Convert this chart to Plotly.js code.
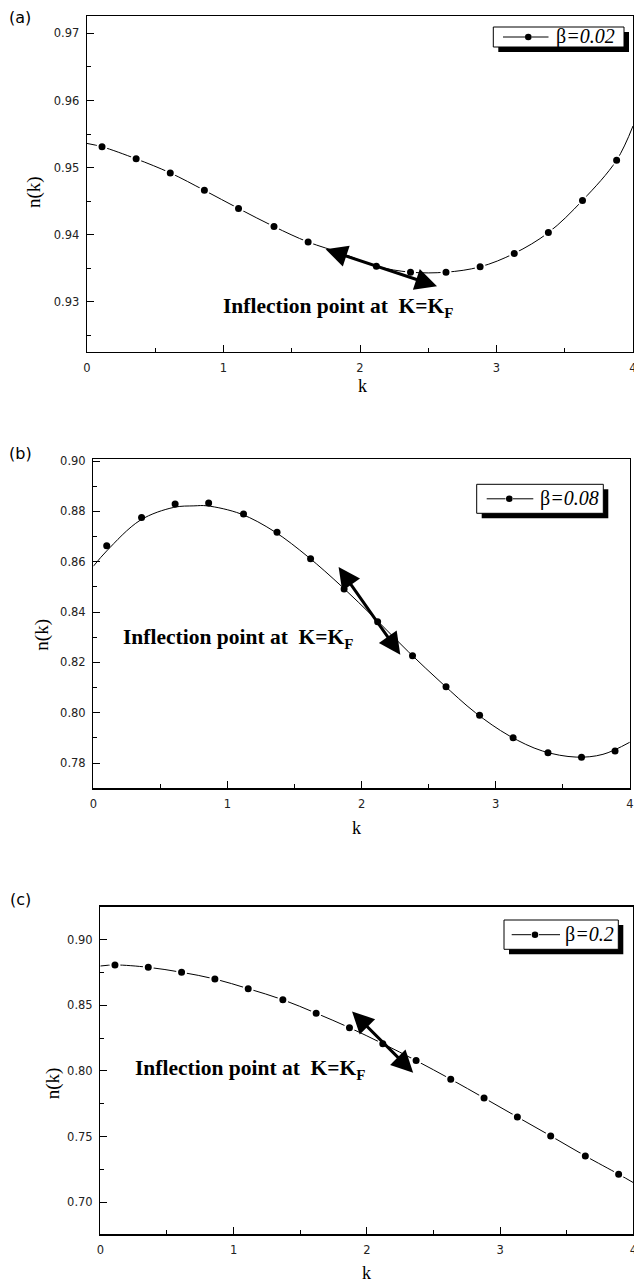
<!DOCTYPE html>
<html>
<head>
<meta charset="utf-8">
<script src="https://cdn.plot.ly/plotly-3.0.1.min.js"></script>
<style>html,body{margin:0;padding:0;background:#fff;}#chart{width:634px;height:1284px;}</style>
</head>
<body>
<div id="chart"></div>
<script>
// ---------------- data ----------------
// panel (a)  beta = 0.02
const kA = [0.11, 0.36, 0.61, 0.86, 1.11, 1.37, 1.62, 1.87, 2.12, 2.37, 2.63, 2.88, 3.13, 3.38, 3.63, 3.88];
const nA = [0.9531, 0.9513, 0.9492, 0.9466, 0.9439, 0.9412, 0.9389, 0.9372, 0.9353, 0.9344, 0.9344, 0.9352, 0.9372, 0.9403, 0.9451, 0.9511];
const lineA_k = [0, 4];            // curve end points
const lineA_n = [0.9536, 0.9562];

// panel (b)  beta = 0.08
const kB = [0.10, 0.36, 0.61, 0.86, 1.12, 1.37, 1.62, 1.87, 2.12, 2.38, 2.63, 2.88, 3.13, 3.39, 3.64, 3.89];
const nB = [0.8664, 0.8776, 0.8829, 0.8833, 0.8790, 0.8717, 0.8612, 0.8492, 0.8362, 0.8227, 0.8103, 0.7990, 0.7901, 0.7841, 0.7823, 0.7848];
const curveB_k = [0, 0.1, 0.35, 0.6, 0.75, 0.85, 1.1, 1.35, 1.6, 1.85, 2.1, 2.35, 2.6, 2.85, 3.1, 3.35, 3.6, 3.8, 4.0];
const curveB_n = [0.8582, 0.8643, 0.8765, 0.8816, 0.8822, 0.8822, 0.8790, 0.8720, 0.8620, 0.8503, 0.8375, 0.8242, 0.8117, 0.8000, 0.7909, 0.7848, 0.7824, 0.7835, 0.7883];

// panel (c)  beta = 0.2
const kC = [0.11, 0.36, 0.61, 0.86, 1.11, 1.37, 1.62, 1.87, 2.12, 2.37, 2.63, 2.88, 3.13, 3.38, 3.64, 3.89];
const nC = [0.8808, 0.8790, 0.8752, 0.8701, 0.8627, 0.8543, 0.8440, 0.8330, 0.8208, 0.8079, 0.7937, 0.7794, 0.7649, 0.7505, 0.7352, 0.7213];
const lineC_k = [0, 4];
const lineC_n = [0.8800, 0.7149];

// legend labels and texts
const legendLabels = ['\u03b2<i>=0.02</i>', '\u03b2<i>=0.08</i>', '\u03b2<i>=0.2</i>'];
const panelLabels = ['(a)', '(b)', '(c)'];
const noteText = '<b>Inflection point at\u00a0\u00a0K=K<sub>F</sub></b>';
const yTitle = 'n(k)';
const xTitle = 'k';

// arrows (tips in data coordinates): [k1, n1, k2, n2]
const arrowA = [1.737, 0.9379, 2.564, 0.9323];
const arrowB = [1.821, 0.8585, 2.289, 0.8231];
const arrowC = [1.878, 0.8465, 2.348, 0.7987];

// ---------------- layout helpers ----------------
const W = 634, H = 1284;
const PX = x => x / W;
const PY = y => 1 - y / H;

const serif = 'Liberation Serif, Times New Roman, serif';
const sans = 'DejaVu Sans, sans-serif';

function axisBase(extra) {
  return Object.assign({
    showline: true, mirror: true, linecolor: 'black', linewidth: 1.3,
    ticks: 'inside', ticklen: 7, tickwidth: 1, tickcolor: 'black',
    showgrid: false, zeroline: false, fixedrange: true,
    tickfont: {family: sans, size: 11.5, color: '#222'},
    tickmode: 'linear', tick0: 0, ticklabeloverflow: 'allow',
  }, extra);
}

const spline = {shape: 'spline', smoothing: 1, color: 'black', width: 1};

const traces = [
  {x: lineA_k.slice(0,1).concat(kA, lineA_k.slice(1)), y: lineA_n.slice(0,1).concat(nA, lineA_n.slice(1)),
   mode: 'lines', line: spline, xaxis: 'x', yaxis: 'y', hoverinfo: 'skip'},
  {x: kA, y: nA, mode: 'markers', marker: {size: 9, color: 'black', line: {color: 'white', width: 2}}, xaxis: 'x', yaxis: 'y'},
  {x: curveB_k, y: curveB_n, mode: 'lines', line: spline, xaxis: 'x2', yaxis: 'y2', hoverinfo: 'skip'},
  {x: kB, y: nB, mode: 'markers', marker: {size: 7, color: 'black'}, xaxis: 'x2', yaxis: 'y2'},
  {x: lineC_k.slice(0,1).concat(kC, lineC_k.slice(1)), y: lineC_n.slice(0,1).concat(nC, lineC_n.slice(1)),
   mode: 'lines', line: spline, xaxis: 'x3', yaxis: 'y3', hoverinfo: 'skip'},
  {x: kC, y: nC, mode: 'markers', marker: {size: 9, color: 'black', line: {color: 'white', width: 2}}, xaxis: 'x3', yaxis: 'y3'},
];

// panel geometry in pixels: [left, right, top, bottom]
const boxes = [[87, 633, 16, 352], [93.3, 629.8, 459.3, 788.3], [100.3, 633.3, 906.7, 1234.3]];
const yRanges = [[0.9225, 0.9726], [0.770, 0.9007], [0.6755, 0.9252]];
const yD = [0.01, 0.02, 0.05];

const layout = {
  width: W, height: H, margin: {l: 0, r: 0, t: 0, b: 0},
  paper_bgcolor: 'white', plot_bgcolor: 'white', showlegend: false,
  annotations: [], shapes: [],
};
boxes.forEach((b, i) => {
  const s = i === 0 ? '' : String(i + 1);
  layout['xaxis' + s] = axisBase({domain: [PX(b[0]), PX(b[1])], range: [0, 4], dtick: 1, tickformat: 'd',
    anchor: 'y' + s, ticklabelstandoff: 5,
    minor: {ticks: 'inside', ticklen: 4, tickwidth: 1, tickcolor: 'black', dtick: 0.5, tick0: 0, showgrid: false}});
  layout['yaxis' + s] = axisBase({domain: [PY(b[3]), PY(b[2])], range: yRanges[i], dtick: yD[i], tickformat: '.2f',
    anchor: 'x' + s, ticklabelstandoff: 4,
    minor: {ticks: 'inside', ticklen: 4, tickwidth: 1, tickcolor: 'black', dtick: yD[i] / 2, tick0: 0, showgrid: false}});
});

// panel letters
[[19.8, 18], [20.8, 453], [20, 899]].forEach((p, i) => {
  layout.annotations.push({xref: 'paper', yref: 'paper', x: PX(p[0]), y: PY(p[1]), xanchor: 'center', yanchor: 'middle',
    text: panelLabels[i], showarrow: false, font: {family: sans, size: 16, color: 'black'}});
});
// y titles
[[34, 192], [41.7, 635], [53.3, 1083]].forEach(p => {
  layout.annotations.push({xref: 'paper', yref: 'paper', x: PX(p[0]), y: PY(p[1]), xanchor: 'center', yanchor: 'middle',
    text: yTitle, textangle: -90, showarrow: false, font: {family: serif, size: 19, color: 'black'}});
});
// x titles
[[362, 386, 'middle'], [356.7, 828, 'middle'], [366, 1284, 'bottom']].forEach(p => {
  layout.annotations.push({xref: 'paper', yref: 'paper', x: PX(p[0]), y: PY(p[1]), xanchor: 'center', yanchor: p[2],
    text: xTitle, showarrow: false, borderpad: 0, font: {family: serif, size: 18, color: 'black'}});
});
// inflection notes
[[221, 307.5], [121, 638], [133, 1069]].forEach(p => {
  layout.annotations.push({xref: 'paper', yref: 'paper', x: PX(p[0]), y: PY(p[1]), xanchor: 'left', yanchor: 'middle',
    text: noteText, showarrow: false, font: {family: serif, size: 21.5, color: 'black'}});
});
// double arrows
[arrowA, arrowB, arrowC].forEach((a, i) => {
  const s = i === 0 ? '' : String(i + 1);
  layout.annotations.push({xref: 'x' + s, yref: 'y' + s, axref: 'x' + s, ayref: 'y' + s,
    x: a[2], y: a[3], ax: a[0], ay: a[1], text: '', showarrow: true,
    arrowhead: 2, startarrowhead: 2, arrowside: 'end+start', arrowsize: 1.45, startarrowsize: 1.45,
    arrowwidth: 3, arrowcolor: 'black', standoff: 0, startstandoff: 0});
});

// hand-drawn legends with drop shadow: box [x0,y0,x1,y1], line y, segments, marker x, text x
const legends = [
  {box: [493.3, 27, 624, 47], ly: 37, seg: [[503, 525], [531.5, 548.5]], mx: 528.3, tx: 554},
  {box: [476.7, 484.3, 603.3, 513.3], ly: 498.8, seg: [[486.7, 505.5], [513, 533.3]], mx: 509.3, tx: 538},
  {box: [504, 920, 618.3, 949.3], ly: 934.7, seg: [[511.7, 531], [539, 560]], mx: 535, tx: 563},
];
legends.forEach((L, i) => {
  const [x0, y0, x1, y1] = L.box, off = 5;
  layout.shapes.push({type: 'rect', xref: 'paper', yref: 'paper', x0: PX(x0 + off), x1: PX(x1 + off), y0: PY(y0 + off), y1: PY(y1 + off),
    fillcolor: 'black', line: {width: 0}, layer: 'above'});
  layout.shapes.push({type: 'rect', xref: 'paper', yref: 'paper', x0: PX(x0), x1: PX(x1), y0: PY(y0), y1: PY(y1),
    fillcolor: 'white', line: {color: 'black', width: 1}, layer: 'above'});
  L.seg.forEach(sg => layout.shapes.push({type: 'line', xref: 'paper', yref: 'paper', x0: PX(sg[0]), x1: PX(sg[1]), y0: PY(L.ly), y1: PY(L.ly),
    line: {color: 'black', width: 1}, layer: 'above'}));
  const r = 3.3;
  layout.shapes.push({type: 'circle', xref: 'paper', yref: 'paper', x0: PX(L.mx - r), x1: PX(L.mx + r), y0: PY(L.ly + r), y1: PY(L.ly - r),
    fillcolor: 'black', line: {width: 0}, layer: 'above'});
  layout.annotations.push({xref: 'paper', yref: 'paper', x: PX(L.tx), y: PY(L.ly), xanchor: 'left', yanchor: 'middle',
    text: legendLabels[i], showarrow: false, font: {family: serif, size: 20, color: 'black'}});
});

Plotly.newPlot('chart', traces, layout, {displayModeBar: false, staticPlot: true});
</script>
</body>
</html>
